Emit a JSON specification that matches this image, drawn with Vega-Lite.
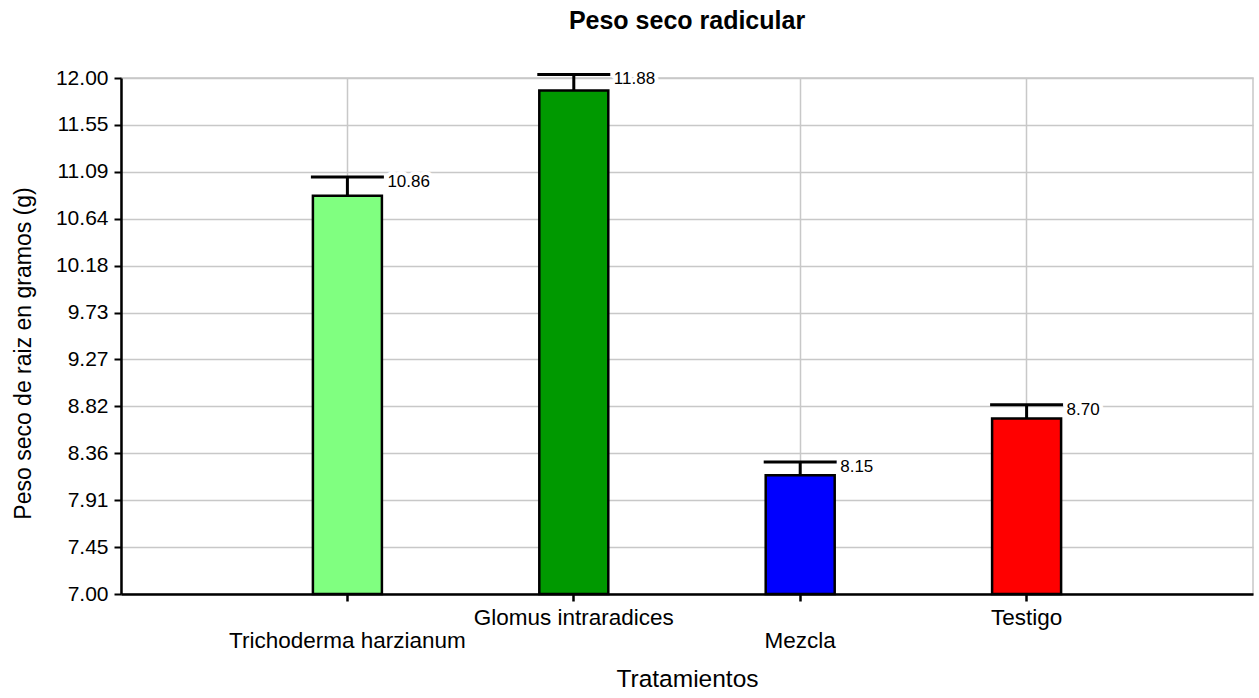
{
  "$schema": "https://vega.github.io/schema/vega-lite/v6.json",
  "width": 1132,
  "height": 516,
  "autosize": {"type": "none"},
  "padding": {"left": 121, "top": 78, "right": 6, "bottom": 104},
  "background": "white",
  "config": {
    "font": "Liberation Sans",
    "view": {"stroke": "#c8c8c8", "strokeWidth": 1.5}
  },
  "title": {
    "text": "Peso seco radicular",
    "font": "Liberation Sans",
    "fontSize": 25,
    "fontWeight": "bold",
    "color": "#000000",
    "frame": "group",
    "anchor": "middle",
    "baseline": "alphabetic",
    "offset": 13
  },
  "data": {
    "values": [
      {"tratamiento": "Trichoderma harzianum", "peso": 10.86, "superior": 11.04},
      {"tratamiento": "Glomus intraradices", "peso": 11.88, "superior": 12.035},
      {"tratamiento": "Mezcla", "peso": 8.15, "superior": 8.28},
      {"tratamiento": "Testigo", "peso": 8.70, "superior": 8.835}
    ]
  },
  "encoding": {
    "x": {
      "field": "tratamiento",
      "type": "nominal",
      "sort": null,
      "scale": {"paddingInner": 0, "paddingOuter": 0.5},
      "axis": {
        "title": "Tratamientos",
        "titleFontSize": 24.5,
        "titleFontWeight": "normal",
        "titleColor": "#000000",
        "titlePadding": 16,
        "labelFontSize": 22.5,
        "labelColor": "#000000",
        "labelAngle": 0,
        "labelPadding": 5,
        "labelLimit": 400,
        "labelLineHeight": 23,
        "labelExpr": "(datum.value == 'Glomus intraradices' || datum.value == 'Testigo') ? datum.value : ['', datum.value]",
        "domainColor": "#000000",
        "domainWidth": 2.5,
        "tickColor": "#000000",
        "tickWidth": 2.5,
        "tickSize": 7,
        "grid": true,
        "gridColor": "#c8c8c8",
        "gridWidth": 1.5
      }
    }
  },
  "layer": [
    {
      "mark": {"type": "bar", "width": 69, "stroke": "#000000", "strokeWidth": 2.5},
      "encoding": {
        "y": {
          "field": "peso",
          "type": "quantitative",
          "scale": {"domain": [7, 12], "nice": false, "zero": false},
          "axis": {
            "title": "Peso seco de raiz en gramos (g)",
            "titleFontSize": 23,
            "titleFontWeight": "normal",
            "titleColor": "#000000",
            "titlePadding": 20,
            "titleY": 275,
            "values": [7, 7.454545, 7.909091, 8.363636, 8.818182, 9.272727, 9.727273, 10.181818, 10.636364, 11.090909, 11.545455, 12],
            "format": ".2f",
            "labelFontSize": 21,
            "labelColor": "#000000",
            "labelPadding": 6,
            "domainColor": "#000000",
            "domainWidth": 2.5,
            "tickColor": "#000000",
            "tickWidth": 2,
            "tickSize": 7,
            "grid": true,
            "gridColor": "#c8c8c8",
            "gridWidth": 1.5
          }
        },
        "y2": {"datum": 7},
        "color": {
          "field": "tratamiento",
          "type": "nominal",
          "scale": {
            "domain": ["Trichoderma harzianum", "Glomus intraradices", "Mezcla", "Testigo"],
            "range": ["#80FF80", "#009900", "#0000FF", "#FF0000"]
          },
          "legend": null
        }
      }
    },
    {
      "mark": {"type": "rule", "color": "#000000", "strokeWidth": 3},
      "encoding": {
        "y": {"field": "peso", "type": "quantitative"},
        "y2": {"field": "superior"}
      }
    },
    {
      "mark": {"type": "tick", "orient": "horizontal", "color": "#000000", "size": 73, "thickness": 3, "opacity": 1},
      "encoding": {
        "y": {"field": "superior", "type": "quantitative"}
      }
    },
    {
      "mark": {"type": "text", "align": "left", "baseline": "middle", "dx": 40, "dy": 5, "fontSize": 17, "stroke": "#ffffff", "strokeWidth": 8, "strokeJoin": "round", "color": "#ffffff"},
      "encoding": {
        "y": {"field": "superior", "type": "quantitative"},
        "text": {"field": "peso", "type": "quantitative", "format": ".2f"}
      }
    },
    {
      "mark": {"type": "text", "align": "left", "baseline": "middle", "dx": 40, "dy": 5, "fontSize": 17, "color": "#000000"},
      "encoding": {
        "y": {"field": "superior", "type": "quantitative"},
        "text": {"field": "peso", "type": "quantitative", "format": ".2f"}
      }
    }
  ]
}
